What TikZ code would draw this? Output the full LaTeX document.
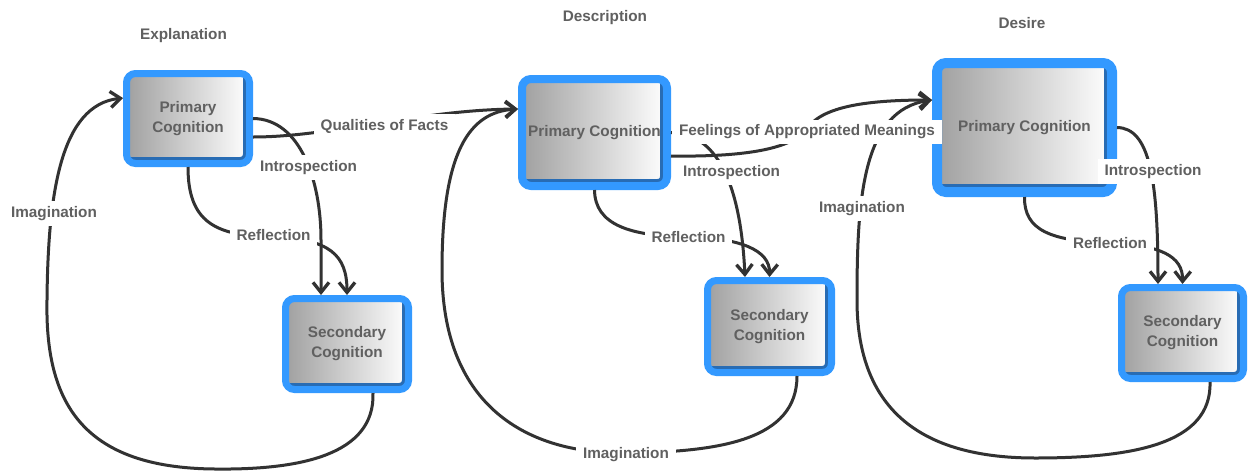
\documentclass[tikz,border=0pt]{standalone}
\usepackage{fontspec}
\setmainfont{Liberation Sans}
\usetikzlibrary{arrows.meta,calc}

\definecolor{boxblue}{RGB}{51,153,255}
\definecolor{boxshade}{RGB}{40,108,180}
\definecolor{boxgray}{RGB}{160,160,160}
\definecolor{txtgray}{RGB}{96,96,96}
\definecolor{linegray}{RGB}{50,50,50}

\tikzset{
  txt/.style={font=\fontsize{15.3}{20}\selectfont\bfseries, text=txtgray},
  cogbox/.style={txt, rectangle, draw=boxblue, line width=#1, rounded corners=9pt,
    left color=boxgray, right color=white, align=center, inner sep=0pt,
    path picture={\draw[boxshade, line width=#1+6pt]
      (path picture bounding box.south west) -- (path picture bounding box.south east)
      -- (path picture bounding box.north east);}},
  cogbox/.default=7pt,
  conn/.style={draw=linegray, line width=3pt,
    -{Straight Barb[length=10pt,width=16pt,line width=3.3pt]}},
  lbl/.style={txt, fill=white, inner xsep=7pt, inner ysep=5pt, text height=11pt, text depth=3.5pt},
  heading/.style={txt}
}

\begin{document}
\begin{tikzpicture}[x=1pt,y=-1pt]
\path[use as bounding box, fill=white] (0,0) rectangle (1248,472);

% column headings
\node[heading] (hexp) at (183.5,36) {Explanation};
\node[heading] (hdes) at (605,18) {Description};
\node[heading] (hdsr) at (1022,23) {Desire};

% cognition boxes
\node[cogbox, minimum width=123pt, minimum height=90pt] (a1) at (188,118.5) {Primary\\Cognition};
\node[cogbox, minimum width=123pt, minimum height=91pt] (a2) at (347,344) {Secondary\\Cognition};
\node[cogbox=8pt, minimum width=145pt, minimum height=107pt] (b1) at (594.5,132.5) {Primary Cognition};
\node[cogbox, minimum width=124pt, minimum height=92pt] (b2) at (769.5,326.5) {Secondary\\Cognition};
\node[cogbox=10pt, minimum width=175pt, minimum height=129pt] (c1) at (1024.5,127.5) {Primary Cognition};
\node[cogbox, minimum width=122pt, minimum height=91pt] (c2) at (1182.5,333) {Secondary\\Cognition};

% Explanation
\draw[conn] (a1.east) .. controls (300,119) and (321,180) .. (321,240) -- ($(a2.north)+(-26,0)$);
\draw[conn] (a1.south) .. controls (188,222) and (215,236) .. (273,237)
  .. controls (330,239) and (347,255) .. (a2.north);
\draw[conn] ($(a1.east)+(0,18.5)$) .. controls (330,137) and (420,110) .. ($(b1.west)+(0,-23.5)$);
\draw[conn] ($(a2.south)+(26,0)$) .. controls (375,455) and (300,470) .. (215,469)
  .. controls (80,468) and (45,400) .. (47,300)
  .. controls (48,195) and (60,105) .. ($(a1.west)+(0,-20.5)$);

% Description
\draw[conn] (b1.east) .. controls (710,133) and (740,170) .. ($(b2.north)+(-24.5,0)$);
\draw[conn] (b1.south) .. controls (595,225) and (630,236) .. (688,237)
  .. controls (740,238) and (770,250) .. (b2.north);
\draw[conn] ($(b2.south)+(27.5,0)$) .. controls (797,440) and (720,452) .. (626,453)
  .. controls (520,454) and (442,400) .. (442,270)
  .. controls (442,150) and (470,112) .. ($(b1.west)+(0,-23.5)$);

% Desire
\draw[conn] (c1.east) .. controls (1150,128) and (1158,180) .. ($(c2.north)+(-24.5,0)$);
\draw[conn] (c1.south) .. controls (1024,230) and (1050,241) .. (1110,243)
  .. controls (1160,245) and (1183,256) .. (c2.north);
\draw[conn] ($(c2.south)+(27.5,0)$) .. controls (1212,445) and (1130,458) .. (1035,458)
  .. controls (910,458) and (857,400) .. (857,300)
  .. controls (857,200) and (862,110) .. ($(c1.west)+(0,-27.5)$);

% Description to Desire
\draw[conn] ($(b1.east)+(0,23.5)$) .. controls (740,157) and (790,150) .. (806,130)
  .. controls (820,108) and (860,100) .. ($(c1.west)+(0,-27.5)$);

% connector labels
\node[lbl] (lq)  at (384.5,126.5) {Qualities of Facts};
\node[lbl] (lia) at (308.5,167.5) {Introspection};
\node[lbl] (lra) at (273.5,237) {Reflection};
\node[lbl] (lma) at (54,213.5) {Imagination};
\node[lbl] (lib) at (731.5,172.5) {Introspection};
\node[lbl] (lrb) at (688.5,238.5) {Reflection};
\node[lbl] (lmb) at (626,454.5) {Imagination};
\node[lbl] (lmc) at (862,208.5) {Imagination};
\node[lbl] (lf)  at (807,132) {Feelings of Appropriated Meanings};
\node[lbl] (lic) at (1153,171.5) {Introspection};
\node[lbl] (lrc) at (1110,244.5) {Reflection};
\end{tikzpicture}
\end{document}
